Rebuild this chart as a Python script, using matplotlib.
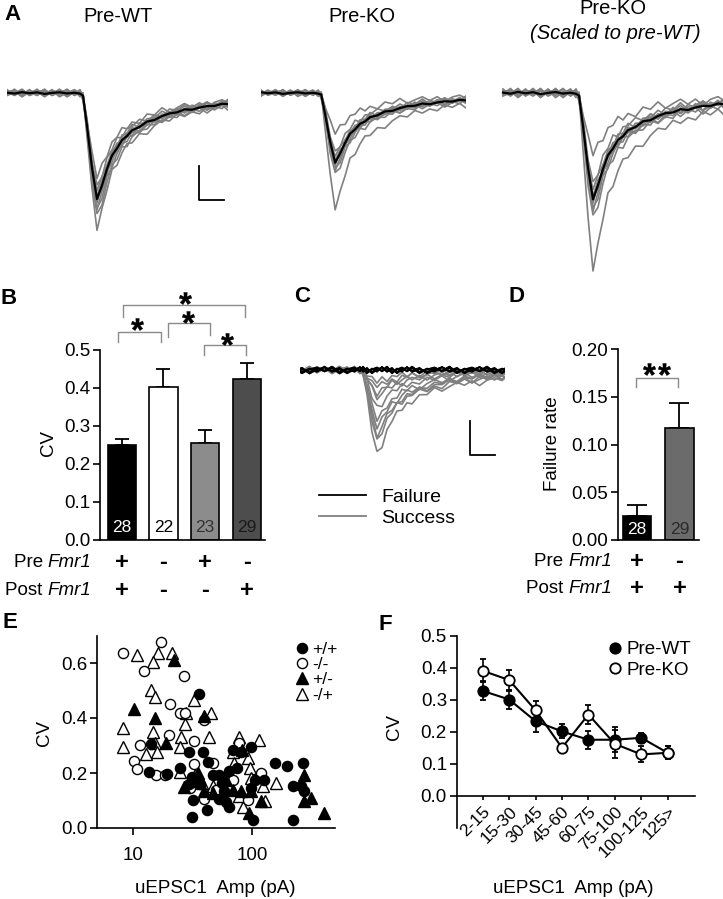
import numpy as np
import matplotlib
matplotlib.use("Agg")
import matplotlib.pyplot as plt
from matplotlib.lines import Line2D
from matplotlib.ticker import NullLocator, FormatStrFormatter
from matplotlib import transforms

plt.rcParams['font.family'] = ['Liberation Sans', 'DejaVu Sans']
plt.rcParams['mathtext.fontset'] = 'custom'
plt.rcParams['mathtext.rm'] = 'Liberation Sans'
plt.rcParams['mathtext.it'] = 'Liberation Sans:italic'
plt.rcParams['mathtext.bf'] = 'Liberation Sans:bold'
plt.rcParams['axes.linewidth'] = 1.2
plt.rcParams['axes.unicode_minus'] = False

# ------------------------------------------------------------------ data
# Panels A / C: uEPSC waveform (time in ms, amplitude normalised to the peak)
wave_t = [0, 1.5, 3, 4.5, 6, 7.5, 9, 10.5, 12, 13.5, 14.6, 15.2, 16, 17, 18, 19, 20, 21, 22, 23,
          24, 25, 26.5, 28, 29.5, 31, 32.5, 34, 35.5, 37, 38.5, 40, 41.5, 43, 44.2]
wave_shape = [0, 0, 0, 0, 0, 0, 0, 0, 0, 0, 0, -0.03, -0.31, -0.72, -1.0, -0.88, -0.72, -0.60, -0.52, -0.45,
              -0.40, -0.36, -0.32, -0.28, -0.25, -0.22, -0.20, -0.18, -0.16, -0.15, -0.14, -0.13, -0.12, -0.11, -0.10]
wave_noise = [0.3, -0.5, 0.8, -0.2, 0.6, -0.9, 0.1, 0.7, -0.4, 0.2, -0.6, 0.5, -0.3, 0.9, -0.7, 0.4, -0.1, 0.8,
              -0.5, 0.3, -0.8, 0.6, -0.2, 0.9, -0.6, 0.1, 0.7, -0.4, 0.5, -0.9, 0.2, 0.6, -0.3, 0.8, -0.5]
a_titles = ['Pre-WT', 'Pre-KO', 'Pre-KO']
a_subtitle = '(Scaled to pre-WT)'
a_wt_mean_pA = 62.0
a_ko_mean_pA = 40.6
a_wt_trial_scale = [0.80, 0.88, 0.93, 0.97, 1.00, 1.03, 1.07, 1.12, 1.18, 1.27]
a_ko_trial_scale = [0.58, 0.85, 0.92, 0.97, 1.00, 1.03, 1.08, 1.12, 1.20, 1.65]
c_success_pA = [50, 41, 38, 33.5, 29.4, 22, 16, 13.5, 10, 7]
c_failure_trials = 7
c_labels = ['Failure', 'Success']
scale_ms = 5
scale_pA = 20

# Panel B
b_pre = ['+', '-', '+', '-']
b_post = ['+', '-', '-', '+']
b_cv = [0.250, 0.403, 0.256, 0.425]
b_sem = [0.016, 0.046, 0.033, 0.042]
b_n = [28, 22, 23, 29]

# Panel D
d_pre = ['+', '-']
d_post = ['+', '+']
d_rate = [0.025, 0.1176]
d_sem = [0.0116, 0.0262]
d_n = [28, 29]

# Panel E  (uEPSC1 amplitude in pA, CV)
e_wt_amp = [35.9, 14.3, 13.6, 19.4, 24.7, 29.5, 39.2, 43.2, 31.5, 34.7, 29.5, 31.9, 31.5, 41.8, 47,
            53.5, 56.3, 53.5, 64.8, 69, 64.8, 74.8, 81.3, 98.8, 107, 98.8, 102, 127, 158, 197,
            220, 259, 268, 272, 220, 58.9, 60.8, 36.4]
e_wt_cv = [0.489, 0.305, 0.205, 0.197, 0.217, 0.278, 0.278, 0.239, 0.187, 0.175, 0.16, 0.103, 0.04, 0.066, 0.193,
           0.193, 0.165, 0.105, 0.078, 0.284, 0.209, 0.217, 0.278, 0.296, 0.175, 0.145, 0.03, 0.175, 0.235, 0.227,
           0.151, 0.151, 0.235, 0.133, 0.03, 0.133, 0.093, 0.16]
e_ko_amp = [8.2, 17.3, 12.4, 26.8, 20.7, 24.7, 27.2, 40, 32.6, 20.3, 11.4, 10.3, 10.9, 15.7, 18.5,
            32.6, 47, 78.7, 69, 120, 30, 40, 50, 92.5]
e_ko_cv = [0.636, 0.676, 0.571, 0.551, 0.451, 0.418, 0.420, 0.394, 0.318, 0.339, 0.303, 0.243, 0.216, 0.194, 0.194,
           0.231, 0.237, 0.309, 0.176, 0.2, 0.145, 0.106, 0.139, 0.103]
e_het_amp = [22.1, 10.3, 15.5, 19.1, 40, 35.2, 30.9, 26.8, 40, 47, 69, 81, 98.8, 120, 95.4, 276, 276, 314,
             405, 83, 60.8, 35.9]
e_het_cv = [0.61, 0.433, 0.4, 0.309, 0.409, 0.2, 0.17, 0.149, 0.134, 0.128, 0.139, 0.134, 0.134, 0.098, 0.056,
            0.194, 0.098, 0.11, 0.056, 0.284, 0.175, 0.175]
e_post_amp = [10.8, 16.2, 21.4, 14.9, 14.3, 15.3, 8.2, 8.2, 14.9, 15.3, 12.9, 16, 27.2, 28, 32.6, 45.5, 25.5,
              24.7, 44, 25, 78.7, 116, 92.5, 97, 98.8, 123, 128, 84, 78.7, 57, 47, 38.3, 33, 69, 71.4, 160]
e_post_cv = [0.63, 0.636, 0.636, 0.604, 0.503, 0.477, 0.362, 0.296, 0.35, 0.31, 0.269, 0.278, 0.38, 0.417, 0.465,
             0.419, 0.332, 0.296, 0.33, 0.203, 0.332, 0.32, 0.254, 0.217, 0.181, 0.151, 0.097, 0.078, 0.115, 0.139,
             0.151, 0.165, 0.193, 0.278, 0.235, 0.163]
e_labels = ['+/+', '-/-', '+/-', '-/+']

# Panel F
f_bins = ['2-15', '15-30', '30-45', '45-60', '60-75', '75-100', '100-125', '125>']
f_wt = [0.328, 0.301, 0.233, 0.201, 0.175, 0.175, 0.181, 0.134]
f_wt_err = [0.03, 0.03, 0.035, 0.022, 0.028, 0.04, 0.015, 0.02]
f_ko = [0.391, 0.362, 0.267, 0.150, 0.254, 0.162, 0.129, 0.134]
f_ko_err = [0.036, 0.033, 0.03, 0.012, 0.03, 0.045, 0.025, 0.02]
f_labels = ['Pre-WT', 'Pre-KO']

# ------------------------------------------------------------------ layout helpers
W, H = 723.0, 899.0
fig = plt.figure(figsize=(W / 100, H / 100), dpi=100)
renderer = fig.canvas.get_renderer()


def add_ax(l, t, r, b):
    return fig.add_axes([l / W, 1 - b / H, (r - l) / W, (b - t) / H])


def ftext(x, y, s, **kw):
    return fig.text(x / W, 1 - y / H, s, **kw)


TICK = 13.5
GRAY = '#808080'

t = np.array(wave_t)
shape = np.array(wave_shape)
noise = np.array(wave_noise)


def trace_axes(l, r, t0, t1, top=76, bottom=348):
    ax = add_ax(l, top, r, bottom)
    ax.set_xlim(t0, t1)
    ax.set_ylim(-150, 10)
    ax.axis('off')
    return ax


def draw_trials(ax, mean_pA, scales, noise_pA):
    for i, s in enumerate(scales):
        ax.plot(t, s * mean_pA * shape + noise_pA * np.roll(noise, 3 * i + 2), color=GRAY, lw=1.2)


def scalebar(ax, x0, y0):
    ax.plot([x0, x0, x0 + scale_ms], [y0 + scale_pA, y0, y0], color='black', lw=1.3)


def gene_label(ax, x, y, prefix):
    it = ax.text(x, y, 'Fmr1', style='italic', ha='right', va='center', fontsize=TICK, clip_on=False)
    w = it.get_window_extent(renderer).width
    tr = transforms.offset_copy(ax.transData, fig=fig, x=-w, y=0, units='dots')
    ax.text(x, y, prefix + ' ', ha='right', va='center', fontsize=TICK, clip_on=False, transform=tr)


def bracket(ax, x1, x2, y, yl, yr, star_x, star_y):
    ax.plot([x1, x1, x2, x2], [yl, y, y, yr], color='#8a8a8a', lw=1.0, clip_on=False)
    ax.plot(star_x, star_y, ls='none', marker=r'$\mathbf{*}$', ms=9, color='black',
            mec='black', mew=0.3, clip_on=False)


# ------------------------------------------------------------------ panel A
axA1 = trace_axes(7, 228, 0, 44.2)
draw_trials(axA1, a_wt_mean_pA, a_wt_trial_scale, 2.5)
axA1.plot(t, a_wt_mean_pA * shape + 0.6 * noise, color='black', lw=1.6)
scalebar(axA1, 38.4, -63)

axA2 = trace_axes(260.5, 465.6, 3, 44.2)
draw_trials(axA2, a_ko_mean_pA, a_ko_trial_scale, 2.2)
axA2.plot(t, a_ko_mean_pA * shape + 0.6 * noise, color='black', lw=1.6)

axA3 = trace_axes(500, 724, -0.6, 44.2)
draw_trials(axA3, a_wt_mean_pA, a_ko_trial_scale, 3.0)
axA3.plot(t, a_wt_mean_pA * shape + 0.8 * noise, color='black', lw=1.6)

ftext(12.7, 15, 'A', fontsize=16, fontweight='bold', ha='center', va='center')
ftext(117.6, 17, a_titles[0], fontsize=14.5, ha='center', va='center')
ftext(362, 17, a_titles[1], fontsize=14.5, ha='center', va='center')
ftext(613, 8.5, a_titles[2], fontsize=14.5, ha='center', va='center')
ftext(615.5, 33.5, a_subtitle, fontsize=14.5, ha='center', va='center', style='italic')

# ------------------------------------------------------------------ panel C
axC = trace_axes(300, 505, 2.6, 43.6, top=353, bottom=625)
for i, amp in enumerate(c_success_pA):
    axC.plot(t, amp * shape + 2.4 * np.roll(noise, 4 * i + 1), color=GRAY, lw=1.2)
for i in range(c_failure_trials):
    axC.plot(t, 2.2 * np.roll(noise, 5 * i + 3), color='black', lw=1.2)
scalebar(axC, 36.6, -50)
handles = [Line2D([], [], color='black', lw=1.3), Line2D([], [], color=GRAY, lw=1.3)]
axC.legend(handles, c_labels, loc='upper left', bbox_to_anchor=(319 / W, 1 - 488 / H),
           bbox_transform=fig.transFigure, frameon=False, fontsize=14, handlelength=2.42,
           handletextpad=0.8, labelspacing=0.19, borderpad=0, borderaxespad=0)
ftext(301.7, 297, 'C', fontsize=16, fontweight='bold', ha='center', va='center')

# ------------------------------------------------------------------ panel B
axB = add_ax(100, 350, 265, 540)
xb = np.arange(len(b_cv))
axB.bar(xb, b_cv, width=0.68, color=['#000000', '#ffffff', '#8c8c8c', '#4d4d4d'],
        edgecolor='black', linewidth=1.2, zorder=2)
axB.errorbar(xb, b_cv, yerr=[np.zeros(len(b_sem)), b_sem], fmt='none', ecolor='black',
             elinewidth=1.3, capsize=4.7, capthick=1.3, zorder=1)
axB.set_xlim(-0.52, 3.44)
axB.set_ylim(0, 0.5)
axB.spines[['top', 'right']].set_visible(False)
axB.set_xticks([])
axB.set_yticks(np.arange(0, 0.51, 0.1))
axB.yaxis.set_major_formatter(FormatStrFormatter('%.1f'))
axB.tick_params(axis='y', length=5, width=1.2, labelsize=TICK, pad=2)
for i, (n, c) in enumerate(zip(b_n, ['#ffffff', '#000000', '#333333', '#1a1a1a'])):
    axB.text(i, 0.032, str(n), ha='center', va='center', fontsize=12.5, color=c, zorder=3)
for i in range(len(b_pre)):
    axB.text(i, -0.058, b_pre[i], ha='center', va='center', fontsize=17, fontweight='bold', clip_on=False)
    axB.text(i, -0.132, b_post[i], ha='center', va='center', fontsize=17, fontweight='bold', clip_on=False)
gene_label(axB, -0.72, -0.058, 'Pre')
gene_label(axB, -0.72, -0.132, 'Post')
axB.set_ylabel('CV', fontsize=TICK)
axB.yaxis.set_label_coords(-0.26, 0.51)
bracket(axB, -0.089, 0.942, 0.547, 0.521, 0.521, [0.36], [0.568])
bracket(axB, 1.11, 2.12, 0.571, 0.534, 0.539, [1.59], [0.588])
bracket(axB, 1.98, 2.99, 0.513, 0.487, 0.487, [2.52], [0.530])
bracket(axB, 0.03, 2.957, 0.618, 0.587, 0.587, [1.52], [0.638])
ftext(8.3, 298, 'B', fontsize=16, fontweight='bold', ha='center', va='center')

# ------------------------------------------------------------------ panel D
axD = add_ax(617.7, 349, 699.3, 540)
xd = np.arange(len(d_rate))
axD.bar(xd, d_rate, width=0.66, color=['#000000', '#6b6b6b'], edgecolor='black', linewidth=1.2, zorder=2)
axD.errorbar(xd, d_rate, yerr=[np.zeros(len(d_sem)), d_sem], fmt='none', ecolor='black',
             elinewidth=1.3, capsize=7, capthick=1.3, zorder=1)
axD.set_xlim(-0.454, 1.466)
axD.set_ylim(0, 0.2)
axD.spines[['top', 'right']].set_visible(False)
axD.set_xticks([])
axD.set_yticks(np.arange(0, 0.201, 0.05))
axD.yaxis.set_major_formatter(FormatStrFormatter('%.2f'))
axD.tick_params(axis='y', length=5, width=1.2, labelsize=TICK, pad=2)
for i, (n, c) in enumerate(zip(d_n, ['#ffffff', '#2a2a2a'])):
    axD.text(i, 0.0105, str(n), ha='center', va='center', fontsize=12.5, color=c, zorder=3)
for i in range(len(d_pre)):
    axD.text(i, -0.022, d_pre[i], ha='center', va='center', fontsize=17, fontweight='bold', clip_on=False)
    axD.text(i, -0.051, d_post[i], ha='center', va='center', fontsize=17, fontweight='bold', clip_on=False)
gene_label(axD, -0.59, -0.022, 'Pre')
gene_label(axD, -0.59, -0.051, 'Post')
axD.set_ylabel('Failure rate', fontsize=TICK)
axD.yaxis.set_label_coords(-0.69, 0.505)
bracket(axD, -0.02, 0.96, 0.170, 0.160, 0.160, [0.29, 0.63], [0.179, 0.179])
ftext(517, 297, 'D', fontsize=16, fontweight='bold', ha='center', va='center')

# ------------------------------------------------------------------ panel E
axE = add_ax(97, 635.5, 335, 828)
mk = dict(ls='none', mec='black', mew=1.0)
axE.plot(e_post_amp, e_post_cv, marker='^', ms=8, mfc='white', label=e_labels[3], **mk)
axE.plot(e_ko_amp, e_ko_cv, marker='o', ms=7.3, mfc='white', label=e_labels[1], **mk)
axE.plot(e_het_amp, e_het_cv, marker='^', ms=8, mfc='black', label=e_labels[2], **mk)
axE.plot(e_wt_amp, e_wt_cv, marker='o', ms=7.3, mfc='black', label=e_labels[0], **mk)
axE.set_xscale('log')
axE.set_xlim(5, 500)
axE.set_ylim(0, 0.7)
axE.set_xticks([10, 100], labels=['10', '100'])
axE.xaxis.set_minor_locator(NullLocator())
axE.set_yticks([0, 0.2, 0.4, 0.6])
axE.yaxis.set_major_formatter(FormatStrFormatter('%.1f'))
axE.spines[['top', 'right']].set_visible(False)
axE.tick_params(axis='both', length=5, width=1.2, labelsize=TICK)
axE.tick_params(axis='x', pad=9)
axE.tick_params(axis='y', pad=2)
axE.set_ylabel('CV', fontsize=TICK)
axE.yaxis.set_label_coords(-0.185, 0.494)
axE.set_xlabel('uEPSC1  Amp (pA)', fontsize=TICK)
axE.xaxis.set_label_coords(0.496, -0.27)
hE, lE = axE.get_legend_handles_labels()
order = [3, 1, 2, 0]
axE.legend([hE[k] for k in order], [lE[k] for k in order], loc='upper left',
           bbox_to_anchor=(295 / W, 1 - 642 / H), bbox_transform=fig.transFigure, frameon=False,
           fontsize=12.5, handlelength=0.8, handletextpad=0.2, labelspacing=0.0, borderpad=0,
           borderaxespad=0, numpoints=1)
ftext(10, 623, 'E', fontsize=16, fontweight='bold', ha='center', va='center')

# ------------------------------------------------------------------ panel F
axF = add_ax(456.7, 636, 695, 827.5)
xf = np.arange(len(f_bins))
axF.errorbar(xf, f_wt, yerr=f_wt_err, fmt='-o', color='black', mfc='black', mec='black', ms=7.5,
             mew=1.3, lw=1.5, elinewidth=1.2, capsize=2, capthick=1.2, label=f_labels[0])
axF.errorbar(xf, f_ko, yerr=f_ko_err, fmt='-o', color='black', mfc='white', mec='black', ms=7.5,
             mew=1.3, lw=1.5, elinewidth=1.2, capsize=2, capthick=1.2, label=f_labels[1])
axF.set_xlim(-0.986, 8.035)
axF.set_ylim(-0.1, 0.5)
axF.spines[['top', 'right']].set_visible(False)
axF.spines['bottom'].set_position(('data', 0))
axF.set_yticks(np.arange(0, 0.51, 0.1))
axF.yaxis.set_major_formatter(FormatStrFormatter('%.1f'))
axF.set_xticks(xf, labels=f_bins, rotation=45, ha='right', rotation_mode='anchor')
axF.tick_params(axis='y', length=5, width=1.2, labelsize=TICK, pad=2)
axF.tick_params(axis='x', length=3, width=1.2, labelsize=12.5, pad=3)
axF.set_ylabel('CV', fontsize=TICK)
axF.yaxis.set_label_coords(-0.225, 0.525)
axF.set_xlabel('uEPSC1  Amp (pA)', fontsize=TICK)
axF.xaxis.set_label_coords(0.488, -0.274)
fh = [Line2D([], [], ls='none', marker='o', ms=7.5, mfc='black', mec='black', mew=1.3),
      Line2D([], [], ls='none', marker='o', ms=7.5, mfc='white', mec='black', mew=1.3)]
axF.legend(fh, f_labels, loc='upper left', bbox_to_anchor=(609.4 / W, 1 - 641 / H),
           bbox_transform=fig.transFigure, frameon=False, fontsize=TICK, handlelength=0.6,
           handletextpad=0.32, labelspacing=0.2, borderpad=0, borderaxespad=0)
ftext(385, 624, 'F', fontsize=16, fontweight='bold', ha='center', va='center')

fig.savefig('out.png', dpi=100)
